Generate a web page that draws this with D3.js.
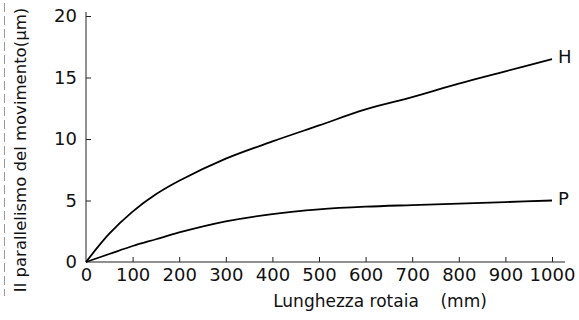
<!DOCTYPE html>
<html>
<head>
<meta charset="utf-8">
<script src="https://cdn.jsdelivr.net/npm/d3@7"></script>
<style>
  body { margin: 0; background: #fff; }
  svg text { font-family: "DejaVu Sans", Verdana, sans-serif; fill: #111; }
</style>
</head>
<body>
<svg id="chart" width="579" height="320"></svg>
<script>
// rail length (mm) and parallelism of motion (um)
const lengths = [0, 50, 100, 150, 200, 300, 400, 500, 600, 700, 800, 900, 1000];
const seriesH = [0, 2.3, 4.1, 5.5, 6.6, 8.4, 9.8, 11.1, 12.4, 13.4, 14.5, 15.5, 16.5];
const seriesP = [0, 0.65, 1.3, 1.85, 2.4, 3.3, 3.9, 4.28, 4.5, 4.63, 4.75, 4.87, 5.0];
const seriesNames = ["H", "P"];
const xTicks = [0, 100, 200, 300, 400, 500, 600, 700, 800, 900, 1000];
const yTicks = [0, 5, 10, 15, 20];

const svg = d3.select("#chart");

const x = d3.scaleLinear().domain([0, 1000]).range([86, 552]);
const y = d3.scaleLinear().domain([0, 20]).range([262, 16]);

// dashed guide at the far left
svg.append("line")
  .attr("x1", 4.5).attr("x2", 4.5)
  .attr("y1", 3).attr("y2", 296)
  .attr("stroke", "#999")
  .attr("stroke-dasharray", "9,4");

// axes, ticks drawn inward
const xAxis = svg.append("g")
  .attr("transform", `translate(0,${y(0)})`)
  .call(d3.axisBottom(x).tickValues(xTicks).tickFormat(d3.format("d"))
    .tickSizeInner(-5).tickSizeOuter(0).tickPadding(6));
xAxis.select(".domain").attr("d", `M${x(0)},0H565`);

const yAxis = svg.append("g")
  .attr("transform", `translate(${x(0)},0)`)
  .call(d3.axisLeft(y).tickValues(yTicks).tickSizeInner(-5).tickSizeOuter(0).tickPadding(9));
yAxis.select(".domain").attr("d", `M0,${y(0)}V12`);

svg.selectAll(".tick text").attr("font-size", 18).attr("font-family", "DejaVu Sans");
svg.selectAll(".domain, .tick line").attr("stroke", "#222");
// no tick marks at the origin
xAxis.selectAll(".tick").filter((d) => d === 0).select("line").remove();
yAxis.selectAll(".tick").filter((d) => d === 0).select("line").remove();

// curves
const line = d3.line()
  .x((d) => x(d[0]))
  .y((d) => y(d[1]))
  .curve(d3.curveCatmullRom.alpha(0.5));

[seriesH, seriesP].forEach((vals, i) => {
  const pts = lengths.map((l, j) => [l, vals[j]]);
  svg.append("path")
    .datum(pts)
    .attr("fill", "none")
    .attr("stroke", "#000")
    .attr("stroke-width", 1.8)
    .attr("d", line);
  svg.append("text")
    .attr("x", x(1000) + 6)
    .attr("y", y(vals[vals.length - 1]) - 2)
    .attr("dy", "0.35em")
    .attr("font-size", 18)
    .text(seriesNames[i]);
});

// axis titles
svg.append("text")
  .attr("x", 380)
  .attr("y", 307)
  .attr("text-anchor", "middle")
  .attr("font-size", 17)
  .attr("xml:space", "preserve")
  .text("Lunghezza rotaia    (mm)");

svg.append("text")
  .attr("transform", "translate(26,150) rotate(-90)")
  .attr("text-anchor", "middle")
  .attr("font-size", 16.5)
  .text("Il parallelismo del movimento(μm)");
</script>
</body>
</html>
